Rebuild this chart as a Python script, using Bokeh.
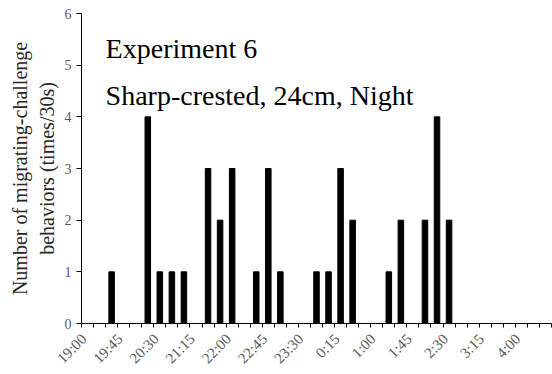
import math
from bokeh.plotting import figure
from bokeh.models import Range1d, FixedTicker
from bokeh.core.properties import value
from bokeh.embed import file_html
from bokeh.resources import INLINE

# 15-minute slots from 19:00 to 4:30
slots = ["19:00", "19:15", "19:30", "19:45", "20:00", "20:15", "20:30", "20:45",
         "21:00", "21:15", "21:30", "21:45", "22:00", "22:15", "22:30", "22:45",
         "23:00", "23:15", "23:30", "23:45", "0:00", "0:15", "0:30", "0:45",
         "1:00", "1:15", "1:30", "1:45", "2:00", "2:15", "2:30", "2:45",
         "3:00", "3:15", "3:30", "3:45", "4:00", "4:15", "4:30"]
counts = [0, 0, 1, 0, 0, 4, 1, 1,
          1, 0, 3, 2, 3, 0, 1, 3,
          1, 0, 0, 1, 1, 3, 2, 0,
          0, 1, 2, 0, 2, 4, 2, 0,
          0, 0, 0, 0, 0, 0, 0]
tick_labels = ["19:00", "19:45", "20:30", "21:15", "22:00", "22:45", "23:30",
               "0:15", "1:00", "1:45", "2:30", "3:15", "4:00"]
y_ticks = [0, 1, 2, 3, 4, 5, 6]
title_lines = ["Experiment 6", "Sharp-crested, 24cm, Night"]

FONT = "Liberation Serif"
n = len(slots)
xs = list(range(n))

p = figure(width=552, height=374, output_backend="svg", toolbar_location=None,
           x_range=Range1d(-0.5, n - 0.5), y_range=Range1d(0, 6),
           min_border_left=81, min_border_right=1, min_border_top=13, min_border_bottom=51)
p.outline_line_color = None
p.xgrid.visible = False
p.ygrid.visible = False
p.background_fill_color = "white"
p.border_fill_color = "white"

p.vbar(x=xs, top=counts, width=0.46, color="black")

# x axis: boundary ticks, rotated labels every third slot
label_pos = [round(slots.index(t) - 0.3, 6) for t in tick_labels]
xa = p.xaxis[0]
xa.ticker = FixedTicker(ticks=label_pos, minor_ticks=[i - 0.5 for i in range(n + 1)])
xa.major_label_overrides = {pos: t for pos, t in zip(label_pos, tick_labels)}
xa.major_tick_line_color = None
xa.minor_tick_in = 0
xa.minor_tick_out = 4
xa.minor_tick_line_color = "black"
xa.axis_line_color = "black"
xa.major_label_orientation = math.pi / 4
xa.major_label_text_font = FONT
xa.major_label_text_font_size = "15px"
xa.major_label_text_color = "#595959"
xa.major_label_standoff = 7

# y axis
ya = p.yaxis[0]
ya.ticker = FixedTicker(ticks=y_ticks)
ya.minor_tick_line_color = None
ya.major_tick_in = 0
ya.major_tick_out = 5
ya.major_tick_line_color = "black"
ya.axis_line_color = "black"
ya.major_label_text_font = FONT
ya.major_label_text_font_size = "14px"
ya.major_label_text_color = "#595959"
ya.major_label_standoff = 5
ya.axis_label = "Number of migrating-challenge\nbehaviors (times/30s)"
ya.axis_label_text_font = FONT
ya.axis_label_text_font_size = "20px"
ya.axis_label_text_font_style = "normal"
ya.axis_label_text_color = "#262626"
ya.axis_label_standoff = 4

# title lines drawn as text in data space
p.text(x=[1.5, 1.5], y=[5.32, 4.41], text=title_lines,
       text_font=value(FONT), text_font_size=value("28px"), text_color="black",
       text_baseline="alphabetic", text_align="left")

open("out.html", "w").write(file_html(p, INLINE))
